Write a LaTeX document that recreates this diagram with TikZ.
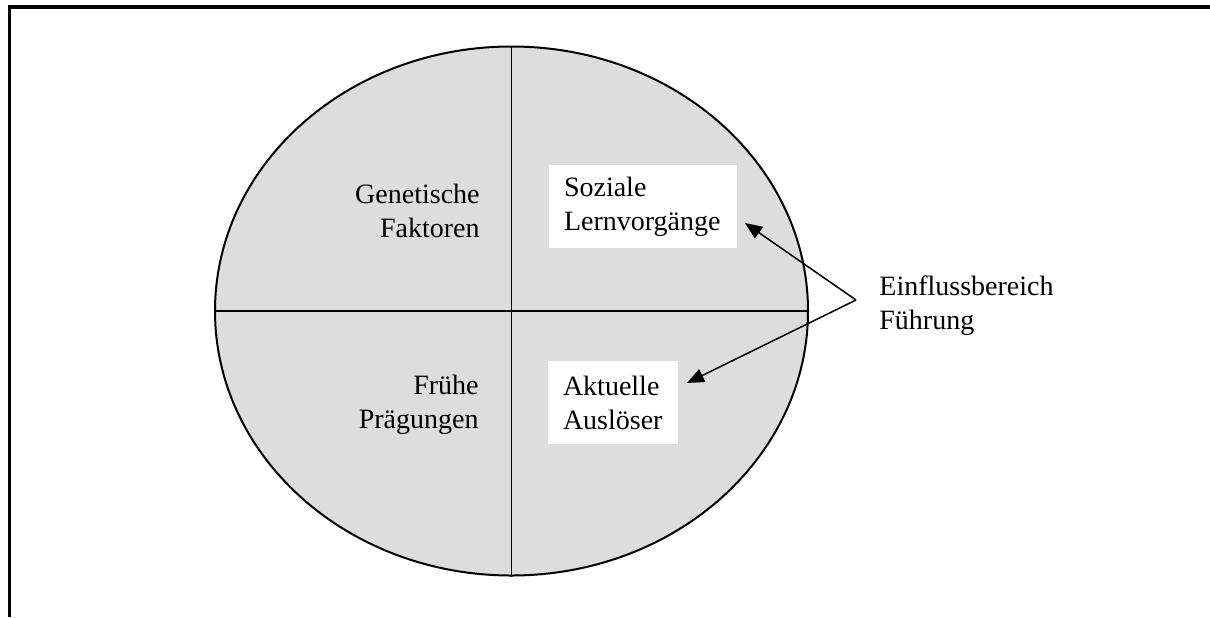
\documentclass[tikz,border=0pt]{standalone}
\usepackage{fontspec}
\setmainfont{Liberation Serif}
\usetikzlibrary{arrows.meta,shapes.geometric}
\definecolor{quadgray}{RGB}{221,221,221}
\tikzset{
    quadlabel/.style = {align=right, inner sep=0pt, anchor=east},
    whitebox/.style  = {fill=white, inner xsep=7.5pt, inner ysep=0pt, align=left,
                        minimum height=41.5pt},
    pointer/.style   = {line width=.75pt, -{Triangle[length=8.5pt,width=7pt]}}
}
\begin{document}
\begin{tikzpicture}[
        x = .5pt,
        y = -.5pt,
        font = \fontsize{14}{17}\selectfont
    ]
        \useasboundingbox (0,0) rectangle (1210,617);

        % frame
        \draw[line width=1.75pt] (9.5,617) -- (9.5,7) -- (1210,7);

        % circle with quadrants
        \node[ellipse, draw, line width=1pt, fill=quadgray, inner sep=0pt,
              minimum width=296.5pt, minimum height=264.5pt] (circ) at (511.5,311) {};
        \draw[line width=.75pt] (circ.north) -- (circ.south);
        \draw[line width=.75pt] (circ.west) -- (circ.east);

        \node[quadlabel] (gen) at (480,211) {Genetische\\Faktoren};
        \node[quadlabel] (fru) at (479,405) {Frühe\\Prägungen};

        \node[whitebox, text width=79pt] (soz) at (643,206.5) {Soziale\\Lernvorgänge};
        \node[whitebox, text width=50pt] (akt) at (613,402.5) {Aktuelle\\Auslöser};

        % influence of leadership
        \coordinate (apex) at (856,300);
        \coordinate (tipS) at (745,223);
        \coordinate (tipA) at (687,383);
        \node[align=left, inner sep=0pt, anchor=west] (lead) at (879,305.5) {Einflussbereich\\Führung};
        \draw[pointer] (apex) -- (tipS);
        \draw[pointer] (apex) -- (tipA);
    \end{tikzpicture}
\end{document}
